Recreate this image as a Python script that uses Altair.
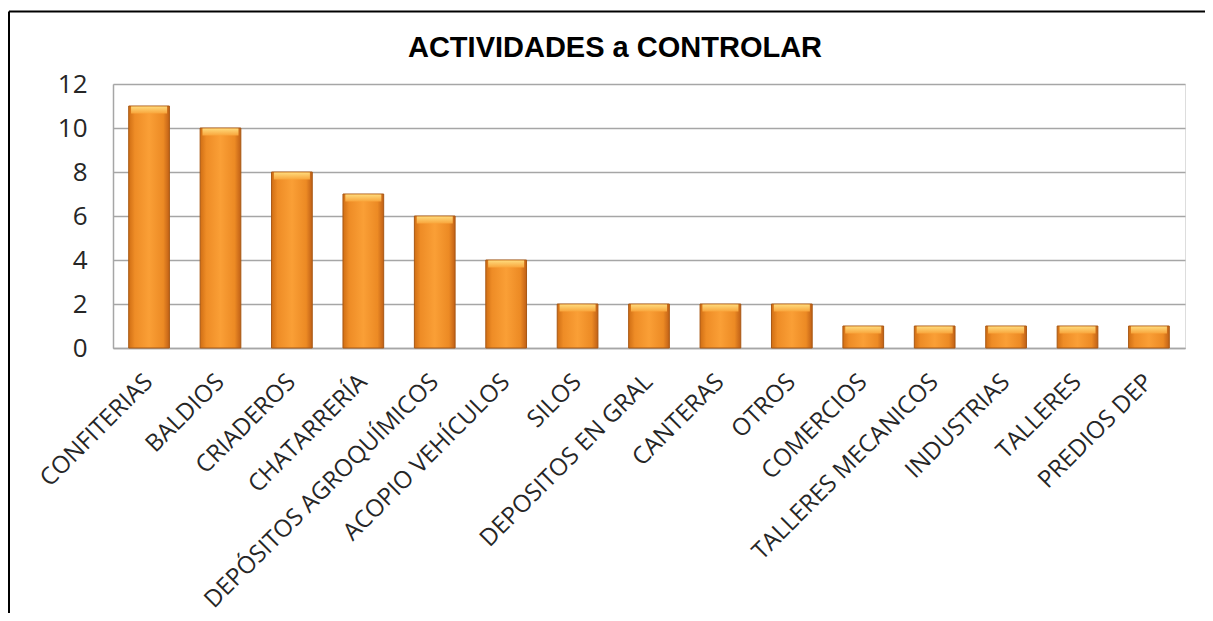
import altair as alt
import pandas as pd

categories = ["CONFITERIAS", "BALDIOS", "CRIADEROS", "CHATARRERÍA",
              "DEPÓSITOS AGROQUÍMICOS", "ACOPIO VEHÍCULOS", "SILOS",
              "DEPOSITOS EN GRAL", "CANTERAS", "OTROS", "COMERCIOS",
              "TALLERES MECANICOS", "INDUSTRIAS", "TALLERES", "PREDIOS DEP"]
values = [11, 10, 8, 7, 6, 4, 2, 2, 2, 2, 1, 1, 1, 1, 1]
y_ticks = [0, 2, 4, 6, 8, 10, 12]
title_text = ["ACTIVIDADES a CONTROLAR"]

df = pd.DataFrame({"cat": categories, "val": values})

W, H = 1072, 264
PAD_L, PAD_T = 105, 76

x_enc = alt.X("cat:N", sort=None, title=None,
              scale=alt.Scale(paddingInner=0.43, paddingOuter=0.22),
              axis=alt.Axis(labelAngle=-45, labelAlign="right", labelBaseline="middle",
                            labelFont="Open Sans", labelFontSize=24, labelColor="#262626",
                            labelPadding=30, ticks=False, domainColor="#a6a6a6",
                            domainWidth=1.5, labelLimit=0, grid=False))
y_enc = alt.Y("val:Q", title=None,
              scale=alt.Scale(domain=[0, 12], nice=False),
              axis=alt.Axis(values=y_ticks, labelFont="Open Sans", labelFontSize=26,
                            labelColor="#262626", labelPadding=26, ticks=False,
                            domainColor="#a6a6a6", domainWidth=1.5,
                            gridColor="#a6a6a6", gridWidth=1.5))

bar_grad = alt.Gradient(gradient="linear", x1=0, x2=1, y1=0, y2=0, stops=[
    alt.GradientStop(offset=0, color="#d06e14"),
    alt.GradientStop(offset=0.15, color="#ee8c26"),
    alt.GradientStop(offset=0.5, color="#fa9f36"),
    alt.GradientStop(offset=0.85, color="#ec8a24"),
    alt.GradientStop(offset=1, color="#c06016"),
])
cap_grad = alt.Gradient(gradient="linear", x1=0, x2=0, y1=0, y2=1, stops=[
    alt.GradientStop(offset=0, color="#ffde80"),
    alt.GradientStop(offset=1, color="#f9a63c"),
])

bars = alt.Chart(df).mark_bar(color=bar_grad, stroke="#a85814", strokeWidth=1).encode(
    x=x_enc, y=y_enc)
caps = alt.Chart(df).mark_tick(color=cap_grad, thickness=7, size=36, yOffset=4,
                               opacity=0.95).encode(x=alt.X("cat:N", sort=None), y="val:Q")

frame_df = pd.DataFrame({"k": [0]})
top_rule = alt.Chart(frame_df).mark_rule(color="black", strokeWidth=2).encode(
    x=alt.value(-104), x2=alt.value(1100), y=alt.value(-72.5))
left_rule = alt.Chart(frame_df).mark_rule(color="black", strokeWidth=2).encode(
    x=alt.value(-104), y=alt.value(-72.5), y2=alt.value(600))

title_df = pd.DataFrame({"t": title_text})
title = alt.Chart(title_df).mark_text(font="Liberation Sans", fontSize=29,
                                      fontWeight="bold", color="black",
                                      align="center", baseline="alphabetic").encode(
    text="t:N", x=alt.value(502), y=alt.value(-27))

chart = alt.layer(bars, caps, top_rule, left_rule, title).properties(
    width=W, height=H,
    autosize=alt.AutoSizeParams(type="none"),
    padding={"left": PAD_L, "top": PAD_T, "right": 20, "bottom": 265},
).configure_view(stroke=None).configure(background="white")

chart.save("out.html", embed_options={"renderer": "svg", "actions": False})
